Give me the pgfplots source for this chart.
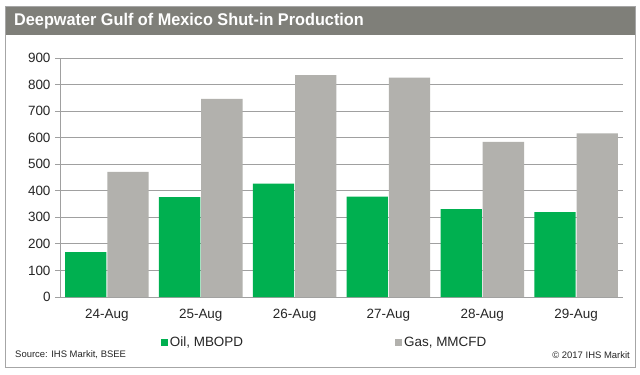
\documentclass[border=0pt]{standalone}
\usepackage{pgfplots}
\pgfplotsset{compat=1.18}
\usepackage{fontspec}
\setmainfont{Liberation Sans}
\definecolor{oilgreen}{HTML}{00B050}
\definecolor{gasgray}{HTML}{B2B1AD}
\definecolor{titlebar}{HTML}{7F7F79}
\definecolor{framegray}{HTML}{A6A6A6}
\definecolor{gridgray}{HTML}{A0A0A0}
\definecolor{txt}{HTML}{262626}
\begin{document}
\begin{tikzpicture}[x=1bp,y=1bp]
\path[use as bounding box] (0,0) rectangle (640,374);
\fill[white] (0,0) rectangle (640,374);
\draw[framegray,line width=1bp] (5.5,6.5) rectangle (635.5,367);
\fill[titlebar] (6,339) rectangle (635,366.5);
\node[anchor=west,text=white,font=\fontsize{17}{19}\selectfont\bfseries,inner sep=0] at (14,352.5) {\scalebox{0.96}[1]{Deepwater Gulf of Mexico Shut-in Production}};
\node[anchor=west,text=txt,font=\fontsize{9.5}{11}\selectfont,inner sep=0] at (15,19) {Source: IHS Markit, BSEE};
\node[anchor=east,text=txt,font=\fontsize{9.5}{11}\selectfont,inner sep=0] at (630,19) {\textcopyright{} 2017 IHS Markit};
\begin{axis}[
  at={(60bp,77bp)}, anchor=south west,
  scale only axis, width=563bp, height=239bp,
  xmin=-0.5, xmax=5.5, ymin=0, ymax=900,
  ytick={0,100,...,900},
  xtick={0,1,2,3,4,5},
  xticklabels={24-Aug,25-Aug,26-Aug,27-Aug,28-Aug,29-Aug},
  extra x ticks={-0.5,0.5,1.5,2.5,3.5,4.5,5.5},
  extra x tick labels={},
  extra x tick style={major tick length=5bp, tick style={gridgray,line width=0.8bp}, tick align=outside, grid=none},
  x tick style={draw=none},
  y tick style={gridgray,line width=0.8bp},
  tick align=outside, major tick length=5bp,
  ymajorgrids, grid style={gridgray,line width=0.8bp},
  axis x line*=bottom, axis y line*=left,
  axis line style={gridgray,line width=0.8bp,-},
  ticklabel style={font=\fontsize{13.5}{16}\selectfont, text=txt},
  /pgf/number format/assume math mode=true,
  xticklabel style={yshift=-4bp},
  yticklabel style={xshift=-1bp},
  ybar, bar width=0.44,
  legend columns=2,
  legend style={at={(axis description cs:0.47,-0.19)}, anchor=center, draw=none, fill=none,
    font=\fontsize{13.5}{16}\selectfont, text=txt,
    /tikz/every even column/.append style={column sep=150bp}},
  legend image code/.code={\fill[#1,draw=none] (1bp,-3.5bp) rectangle (8bp,3.5bp);},
]
\addplot[fill=oilgreen,draw=none,bar shift=-0.225] coordinates {(0,169) (1,376) (2,427) (3,378) (4,331) (5,320)};
\addplot[fill=gasgray,draw=none,bar shift=0.225] coordinates {(0,471) (1,746) (2,836) (3,826) (4,584) (5,616)};
\legend{{Oil, MBOPD},{Gas, MMCFD}}
\end{axis}
\end{tikzpicture}
\end{document}
